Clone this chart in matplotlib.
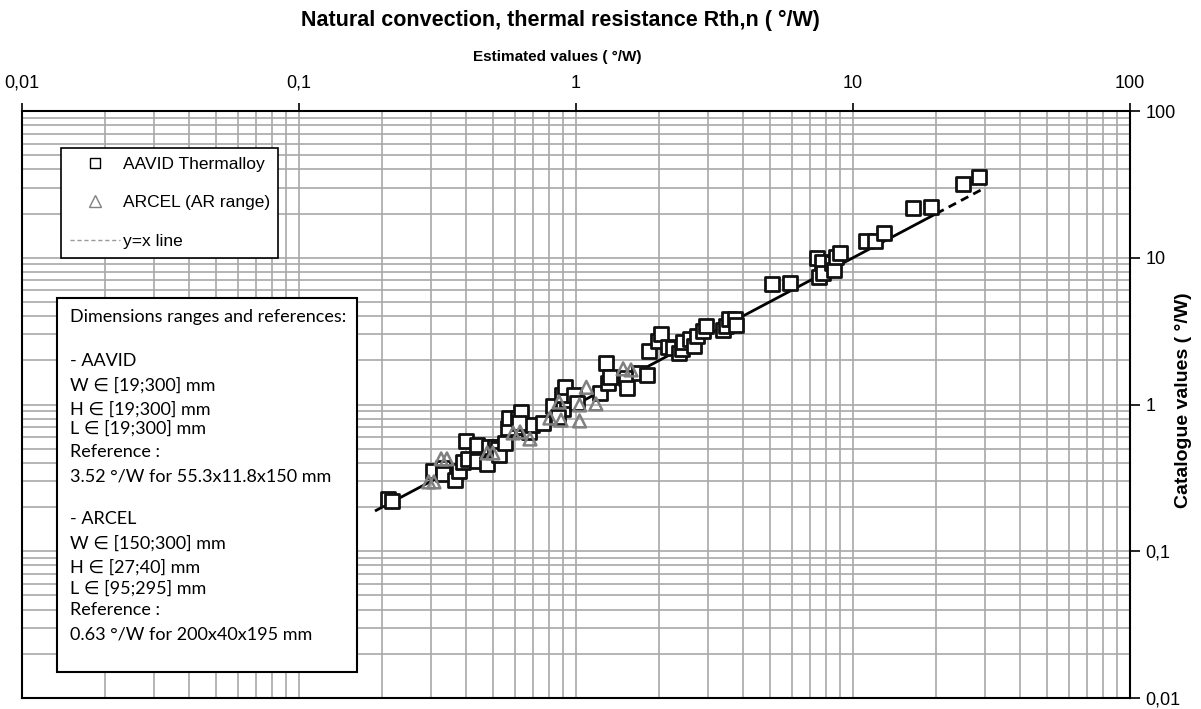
import matplotlib.pyplot as plt
from matplotlib.lines import Line2D
from matplotlib.patches import Rectangle

# AAVID Thermalloy heatsinks: estimated vs catalogue thermal resistance (°/W)
aavid_est = [0.209, 0.217, 0.305, 0.331, 0.331, 0.366, 0.379, 0.391, 0.407, 0.401,
             0.440, 0.440, 0.478, 0.485, 0.511, 0.522, 0.527, 0.555, 0.569, 0.573,
             0.618, 0.633, 0.644, 0.676, 0.693, 0.760, 0.826, 0.897, 0.929, 0.889,
             0.912, 0.984, 1.01, 1.22, 1.28, 1.31, 1.33, 1.52, 1.53, 1.69,
             1.80, 1.84, 1.98, 2.03, 2.15, 2.24, 2.35, 2.41, 2.43, 2.58,
             2.67, 2.73, 2.87, 2.94, 3.40, 3.48, 3.57, 3.75, 3.78, 5.10,
             5.93, 7.41, 7.73, 7.54, 7.80, 8.40, 8.54, 8.69, 8.98, 11.1,
             12.0, 12.9, 16.5, 19.1, 24.9, 28.5, 0.861, 0.622]
aavid_cat = [0.227, 0.220, 0.352, 0.369, 0.336, 0.306, 0.352, 0.406, 0.426, 0.564,
             0.530, 0.412, 0.394, 0.513, 0.513, 0.498, 0.453, 0.547, 0.692, 0.809,
             0.809, 0.889, 0.703, 0.650, 0.725, 0.748, 0.977, 0.932, 1.07, 1.16,
             1.31, 1.16, 1.02, 1.20, 1.92, 1.40, 1.54, 1.52, 1.29, 1.64,
             1.59, 2.32, 2.71, 3.02, 2.47, 2.43, 2.24, 2.39, 2.67, 2.79,
             2.51, 2.93, 3.17, 3.43, 3.22, 3.43, 3.83, 3.83, 3.48, 6.62,
             6.73, 9.96, 9.35, 7.40, 7.87, 9.20, 8.26, 10.1, 10.8, 13.0,
             13.0, 14.8, 21.8, 22.2, 31.8, 35.5, 0.822, 0.748]

# ARCEL (AR range)
arcel_est = [0.294, 0.307, 0.326, 0.342, 0.478, 0.501, 0.593, 0.628, 0.682,
             0.805, 0.869, 0.883, 1.03, 1.03, 1.09, 1.18, 1.48, 1.58]
arcel_cat = [0.297, 0.297, 0.426, 0.426, 0.468, 0.468, 0.640, 0.650, 0.582,
             0.809, 1.04, 0.783, 0.773, 0.993, 1.31, 1.01, 1.75, 1.72]

# y = x reference line: solid part then dashed extension
line_solid = [0.19, 20]
line_dash = [20, 30]

tick_vals = [0.01, 0.1, 1, 10, 100]
tick_labels = ['0,01', '0,1', '1', '10', '100']

box_lines = [
    ('Dimensions ranges and references:', 317),
    ('- AAVID', 361),
    ('W \u2208 [19;300] mm', 385),
    ('H \u2208 [19;300] mm', 409),
    ('L \u2208 [19;300] mm', 428),
    ('Reference :', 452),
    ('3.52 \u00b0/W for 55.3x11.8x150 mm', 476),
    ('- ARCEL', 519),
    ('W \u2208 [150;300] mm', 543),
    ('H \u2208 [27;40] mm', 567),
    ('L \u2208 [95;295] mm', 588),
    ('Reference :', 610),
    ('0.63 \u00b0/W for 200x40x195 mm', 634),
]

W, H = 1201, 709
plt.rcParams['font.family'] = ['Liberation Sans', 'DejaVu Sans']

fig = plt.figure(figsize=(W / 100, H / 100), dpi=100)
ax = fig.add_axes([22 / W, 1 - 698 / H, (1130 - 22) / W, (698 - 111) / H])

ax.set_xscale('log')
ax.set_yscale('log')
ax.set_xlim(0.01, 100)
ax.set_ylim(0.01, 100)

ax.grid(True, which='both', color='#a8a8a8', linewidth=1.2)
ax.set_axisbelow(True)

ax.plot(line_solid, line_solid, color='black', lw=2, zorder=3)
ax.plot(line_dash, line_dash, color='black', lw=2, ls=(0, (3, 2)), zorder=3)

ax.scatter(aavid_est, aavid_cat, marker='s', s=95, facecolor='white',
           edgecolor='#111111', linewidth=2, zorder=4)
ax.scatter(arcel_est, arcel_cat, marker='^', s=85, facecolor='none',
           edgecolor='#808080', linewidth=1.8, zorder=4)

ax.xaxis.tick_top()
ax.yaxis.tick_right()
ax.set_xticks(tick_vals, tick_labels)
ax.set_yticks(tick_vals, tick_labels)
ax.minorticks_on()
ax.tick_params(which='minor', length=0)
ax.tick_params(axis='x', which='major', length=6, width=1.2, pad=8, labelsize=13)
ax.tick_params(axis='y', which='major', length=7, width=1.2, pad=4, labelsize=13)
ax.xaxis.set_minor_formatter(plt.NullFormatter())
ax.yaxis.set_minor_formatter(plt.NullFormatter())
for sp in ax.spines.values():
    sp.set_linewidth(1.5)

fig.text(560 / W, 1 - 20 / H, 'Natural convection, thermal resistance Rth,n ( \u00b0/W)',
         ha='center', va='center', fontsize=15.5, fontweight='bold')
fig.text(557 / W, 1 - 57 / H, 'Estimated values ( \u00b0/W)',
         ha='center', va='center', fontsize=11, fontweight='bold')
fig.text(1184 / W, 1 - 400 / H, 'Catalogue values ( \u00b0/W)', rotation=90,
         ha='center', va='center', fontsize=14, fontweight='bold')

handles = [
    Line2D([], [], ls='none', marker='s', markersize=7, markerfacecolor='white',
           markeredgecolor='black', markeredgewidth=1),
    Line2D([], [], ls='none', marker='^', markersize=8, markerfacecolor='none',
           markeredgecolor='#808080', markeredgewidth=1),
    Line2D([], [], color='#999999', lw=1, ls=(0, (3, 2))),
]
leg = ax.legend(handles, ['AAVID Thermalloy', 'ARCEL (AR range)', 'y=x line'],
                loc='upper left', bbox_to_anchor=((61 - 22) / (1130 - 22), 1 - (148 - 111) / 587),
                fontsize=12.5, frameon=True, fancybox=False, edgecolor='black',
                framealpha=1, labelspacing=1.35, handlelength=2.9, handletextpad=0.15,
                borderpad=0.5, borderaxespad=0, facecolor='white')
leg.get_frame().set_linewidth(1.2)
leg.set_zorder(6)

box = Rectangle((57 / W, 1 - 672 / H), (357 - 57) / W, (672 - 298) / H,
                transform=fig.transFigure, facecolor='white', edgecolor='black',
                linewidth=1.5, zorder=7)
fig.add_artist(box)
for txt, yp in box_lines:
    fig.text(70 / W, 1 - yp / H, txt, ha='left', va='center', fontsize=13,
             family=['Lato', 'DejaVu Sans'], zorder=8)

fig.savefig('out.png', dpi=100)
